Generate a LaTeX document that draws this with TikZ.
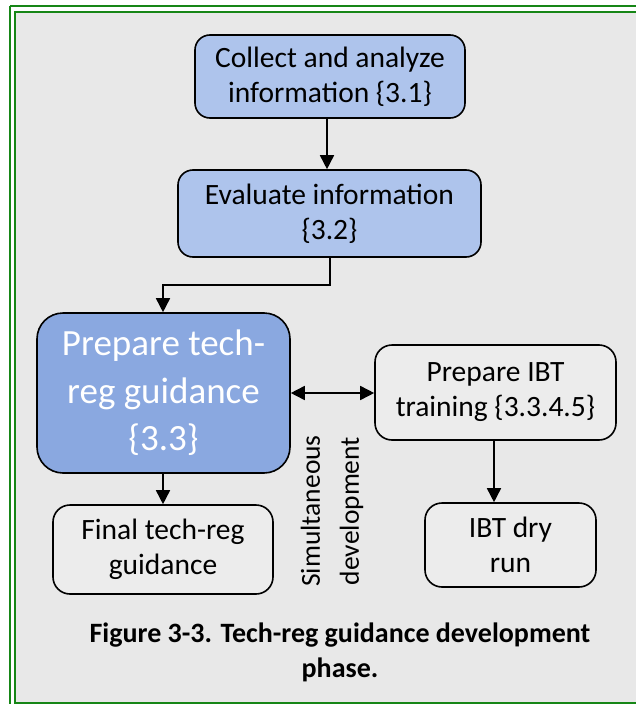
\documentclass[tikz,border=0pt]{standalone}
\usepackage{fontspec}
\setmainfont{Carlito}
\usetikzlibrary{arrows.meta}
\definecolor{framegreen}{RGB}{22,134,22}
\definecolor{panelgrey}{RGB}{232,232,232}
\definecolor{lightblue}{RGB}{174,196,236}
\definecolor{midblue}{RGB}{138,168,224}
\definecolor{boxwhite}{RGB}{236,236,236}
\tikzset{
  basebox/.style={draw=black, line width=1.6pt, align=center, inner sep=0pt,
    font=\fontsize{29.5}{35}\selectfont},
  bluebox/.style={basebox, fill=lightblue, rounded corners=15pt},
  mainbox/.style={basebox, fill=midblue, rounded corners=26pt, text=white,
    font=\fontsize{37}{47.5}\selectfont},
  plainbox/.style={basebox, fill=boxwhite, rounded corners=17pt},
  link/.style={line width=1.6pt, -{Triangle[length=14pt,width=14pt]}},
  twoway/.style={line width=1.6pt, {Triangle[length=14pt,width=14pt]}-{Triangle[length=14pt,width=14pt]}}
}
\begin{document}
\begin{tikzpicture}[x=1pt,y=-1pt]
  % page and double green frame
  \useasboundingbox (0,0) rectangle (636,704);
  \fill[white] (0,0) rectangle (636,704);
  \draw[framegreen, line width=2.5pt] (10,6) -- (640,6);
  \draw[framegreen, line width=2.5pt] (10,6) -- (10,710);
  \fill[panelgrey] (15,12) rectangle (640,703);
  \draw[framegreen, line width=2.5pt] (640,12) -- (15,12) -- (15,703) -- (640,703);

  % process boxes
  \node[bluebox, minimum width=270pt, minimum height=83pt] (collect) at (330,76.5)
    {Collect and analyze\\information \{3.1\}};
  \node[bluebox, minimum width=303pt, minimum height=87pt] (evaluate) at (329.5,213.5)
    {Evaluate information\\\{3.2\}};
  \node[mainbox, minimum width=253pt, minimum height=160pt] (prepare) at (163.5,393)
    {Prepare tech-\\reg guidance\\\{3.3\}};
  \node[plainbox, minimum width=241pt, minimum height=95pt] (ibt) at (495.5,392.5)
    {Prepare IBT\\training \{3.3.4.5\}};
  \node[plainbox, minimum width=220pt, minimum height=89pt] (final) at (163,549.5)
    {Final tech-reg\\guidance};
  \node[plainbox, minimum width=171pt, minimum height=84pt] (dryrun) at (510.5,545)
    {IBT dry\\run};

  % connectors
  \draw[link] (collect.south -| 327,0) -- (evaluate.north -| 327,0);
  \coordinate (bendA) at (330,285);
  \coordinate (bendB) at (163,285);
  \draw[link] (evaluate.south -| bendA) -- (bendA) -- (bendB) -- (prepare.north -| bendB);
  \draw[link] (prepare.south -| 163,0) -- (final.north -| 163,0);
  \draw[link] (ibt.south -| 494,0) -- (dryrun.north -| 494,0);
  \draw[twoway] (prepare.east |- 0,393) -- (ibt.west |- 0,393);

  % side note
  \node[rotate=90, align=center, font=\fontsize{27.5}{39}\selectfont] (note) at (332,511)
    {Simultaneous\\development};

  % caption
  \node[align=center, font=\bfseries\fontsize{28}{35}\selectfont] (caption) at (340,652)
    {Figure 3-3. Tech-reg guidance development\\phase.};
\end{tikzpicture}
\end{document}
